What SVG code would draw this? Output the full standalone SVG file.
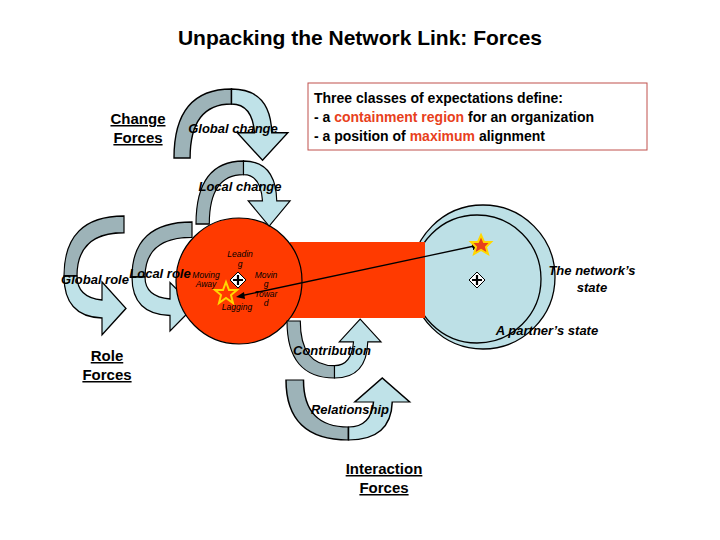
<svg xmlns="http://www.w3.org/2000/svg" width="720" height="540" viewBox="0 0 720 540">
<style>
text{font-family:"Liberation Sans",Arial,sans-serif;fill:#000}
.dk{fill:#9db3b8;stroke:#000;stroke-width:1.2}
.lt{fill:#bfe2e8;stroke:#000;stroke-width:1.2}
.lbl{font-style:italic;font-weight:bold;font-size:13px}
.sm{font-style:italic;font-size:8.5px}
.hd{font-weight:bold;font-size:15px;text-decoration:underline;text-anchor:middle}
</style>
<defs>
<g id="uarrow">
<path class="dk" d="M0,60 Q0,0 50,0 L50,13 Q14,13 14,60 Z"/>
<path class="lt" d="M50,0 Q84,0 85,38 L99,38 L77,62 L55,38 L70,38 Q68,13 50,13 Z"/>
</g>
<marker id="ah" markerWidth="8" markerHeight="8" refX="7" refY="4" orient="auto" markerUnits="userSpaceOnUse"><path d="M0,0 L8,4 L0,8 Z" fill="#000"/></marker>
<g id="cross"><path d="M0,-8 L8,0 L0,8 L-8,0 Z" fill="#fff" stroke="#000" stroke-width="1"/><path d="M-5,0 H5 M0,-5 V5" stroke="#000" stroke-width="2.2"/></g>
</defs>
<rect width="720" height="540" fill="#fff"/>
<text x="360" y="45" font-size="21" font-weight="bold" text-anchor="middle">Unpacking the Network Link: Forces</text>
<g id="textbox">
<rect x="308" y="83" width="339" height="67" fill="#fff" stroke="#c0504d" stroke-width="1"/>
<text x="314" y="103" font-size="14" font-weight="bold">Three classes of expectations define:</text>
<text x="314" y="122" font-size="14" font-weight="bold">- a <tspan fill="#e8401c">containment region</tspan> for an organization</text>
<text x="314" y="141" font-size="14" font-weight="bold">- a position of <tspan fill="#e8401c">maximum</tspan> alignment</text>
</g>
<g id="change-forces"><text class="hd" x="138" y="124">Change</text><text class="hd" x="138" y="143">Forces</text></g>
<g id="role-forces"><text class="hd" x="107" y="361">Role</text><text class="hd" x="107" y="380">Forces</text></g>
<g id="interaction-forces"><text class="hd" x="384" y="474">Interaction</text><text class="hd" x="384" y="493">Forces</text></g>
<g id="network-state">
<circle cx="483" cy="277" r="72" fill="#bde0e6" stroke="#000" stroke-width="1.3"/>
<circle cx="477" cy="279" r="64" fill="#bde0e6" stroke="#000" stroke-width="1.3"/>
<use href="#cross" x="477" y="280"/>
<text class="lbl" x="592" y="275" text-anchor="middle" font-size="12">The network’s</text>
<text class="lbl" x="592" y="292" text-anchor="middle" font-size="12">state</text>
<text class="lbl" x="547" y="335" text-anchor="middle" font-size="12">A partner’s state</text>
</g>
<g id="arrow-local-role"><use href="#uarrow" transform="matrix(0,1.1,1.0,0,132,222)"/></g>
<g id="red-region">
<rect x="290" y="242" width="135" height="76" fill="#ff3a00"/>
<circle cx="239" cy="281" r="63" fill="#ff3a00" stroke="#000" stroke-width="1.2"/>
<use href="#cross" x="238" y="280"/>
<text class="sm" x="240" y="257" text-anchor="middle">Leadin</text>
<text class="sm" x="240" y="267" text-anchor="middle">g</text>
<text class="sm" x="206" y="278" text-anchor="middle">Moving</text>
<text class="sm" x="206" y="287" text-anchor="middle">Away</text>
<text class="sm" x="266" y="278" text-anchor="middle">Movin</text>
<text class="sm" x="266" y="287" text-anchor="middle">g</text>
<text class="sm" x="266" y="297" text-anchor="middle">Towar</text>
<text class="sm" x="266" y="306" text-anchor="middle">d</text>
<text class="sm" x="237" y="310" text-anchor="middle">Lagging</text>
<path d="M226,282 L229,290 L237,290 L231,295 L233,303 L226,298 L219,303 L221,295 L215,290 L223,290 Z" fill="none" stroke="#ffd700" stroke-width="2"/>
</g>
<g id="connectors">
<line x1="240" y1="296" x2="479" y2="245" stroke="#000" stroke-width="1.3" marker-end="url(#ah)"/>
<path d="M236,297 L244,292 L245,299 Z" fill="#000"/>
</g>
<path d="M481,235 L484,242 L491,242 L486,247 L488,254 L481,250 L474,254 L476,247 L471,242 L478,242 Z" fill="#e8401c" stroke="#ffd700" stroke-width="2"/>
<text class="lbl" x="160" y="278" text-anchor="middle" font-size="14">Local role</text>
<g id="arrow-global-change"><use href="#uarrow" transform="matrix(1.15,0,0,1.15,174,89)"/><text class="lbl" x="233" y="133" text-anchor="middle">Global change</text></g>
<g id="arrow-local-change"><use href="#uarrow" transform="matrix(0.95,0,0,1.05,196,161)"/><text class="lbl" x="240" y="191" text-anchor="middle">Local change</text></g>
<g id="arrow-global-role"><use href="#uarrow" transform="matrix(0,1.2,1.0,0,64,216)"/><text class="lbl" x="95" y="284" text-anchor="middle">Global role</text></g>
<g id="arrow-contribution"><use href="#uarrow" transform="matrix(0.95,0,0,-0.95,287,378)"/><text class="lbl" x="332" y="355" text-anchor="middle">Contribution</text></g>
<g id="arrow-relationship"><use href="#uarrow" transform="matrix(1.25,0,0,-1.0,286,440)"/><text class="lbl" x="350" y="414" text-anchor="middle">Relationship</text></g>
</svg>
